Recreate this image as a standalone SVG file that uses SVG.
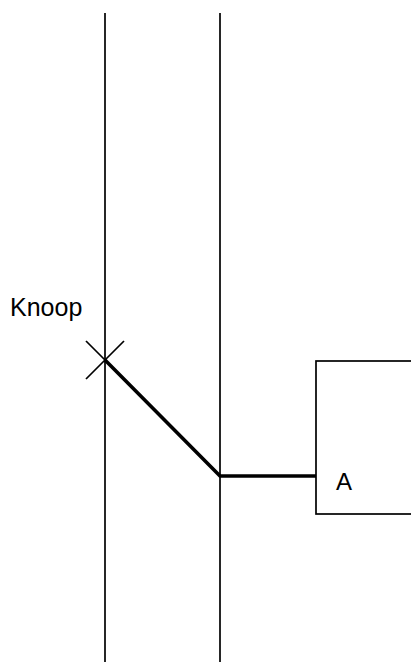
<svg xmlns="http://www.w3.org/2000/svg" width="411" height="662" viewBox="0 0 411 662">
<style>
.thin{stroke:#000;stroke-width:1.7;fill:none}
.thick{stroke:#000;stroke-width:3.6;fill:none}
text{font-family:"Liberation Sans",Arial,sans-serif;font-size:24px;fill:#000}
</style>
<rect width="411" height="662" fill="#fff"/>
<g id="rail-left"><line class="thin" x1="105" y1="13" x2="105" y2="662"/></g>
<g id="rail-right"><line class="thin" x1="220" y1="13" x2="220" y2="662"/></g>
<g id="knoop">
<line class="thin" x1="86" y1="341" x2="124" y2="379"/>
<line class="thin" x1="124" y1="341" x2="86" y2="379"/>
<text x="10" y="316" style="font-size:25px">Knoop</text>
</g>
<g id="A">
<rect class="thin" x="316" y="361" width="110" height="153"/>
<text x="336" y="490">A</text>
</g>
<g id="connectors">
<polyline class="thick" points="105,360 220,476 316,476"/>
</g>
</svg>
